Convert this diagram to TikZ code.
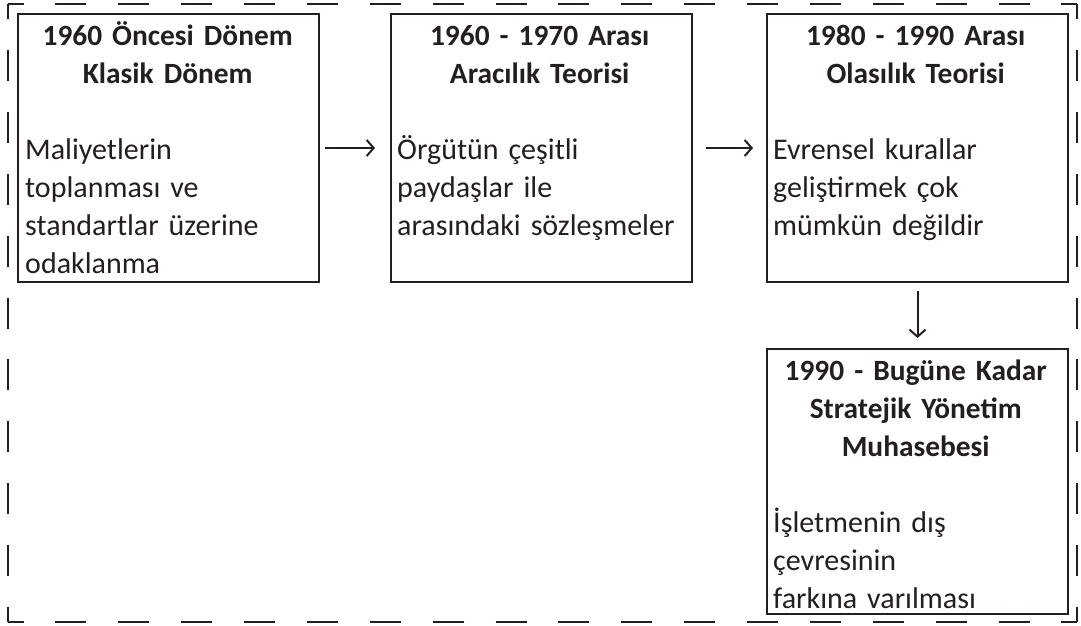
\documentclass[tikz,border=0pt]{standalone}
\usepackage{fontspec}
\setmainfont{Carlito}
\usetikzlibrary{arrows.meta}
\definecolor{ink}{HTML}{231F20}
\newcommand{\ttl}{\fontsize{29.4}{38}\selectfont\bfseries\centering}
\begin{document}
\begin{tikzpicture}[x=1pt,y=-1pt,
  box/.style={draw=ink, line width=2pt, minimum width=301pt, minimum height=268pt, anchor=north west, inner sep=0pt},
  txt/.style={anchor=north west, inner sep=0pt, text width=285pt, align=left, text=ink, font=\fontsize{30}{38}\selectfont},
  conn/.style={draw=ink, line width=2pt, -{Straight Barb[length=7pt,width=16pt]}},
  hframe/.style={draw=ink, line width=2.5pt, dash pattern=on 31pt off 31.88pt, dash phase=15.5pt},
  vframe/.style={draw=ink, line width=2.5pt, dash pattern=on 31pt off 30.8pt, dash phase=15.5pt}
]
\useasboundingbox (0,0) rectangle (1081,626);
% dashed frame
\coordinate (ftl) at (8,4);
\coordinate (ftr) at (1077,4);
\coordinate (fbl) at (8,622);
\coordinate (fbr) at (1077,622);
\draw[hframe] (ftl) -- (ftr);
\draw[hframe] (fbl) -- (fbr);
\draw[vframe] (ftl) -- (fbl);
\draw[vframe] (ftr) -- (fbr);
% boxes
\node[box] (b1) at (17,13) {};
\node[box] (b2) at (390,13) {};
\node[box] (b3) at (766,13) {};
\node[box, minimum height=265pt] (b4) at (766,348) {};
% texts
\node[txt] (t1) at ([xshift=8pt,yshift=-6pt]b1.north west)
 {{\ttl\rule{0pt}{26pt}1960 Öncesi Dönem\\Klasik Dönem\par}\vspace{38pt}Maliyetlerin\\toplanması ve\\standartlar üzerine\\odaklanma};
\node[txt] (t2) at ([xshift=7pt,yshift=-6pt]b2.north west)
 {{\ttl\rule{0pt}{26pt}1960 - 1970 Arası\\Aracılık Teorisi\par}\vspace{38pt}Örgütün çeşitli\\paydaşlar ile\\arasındaki sözleşmeler};
\node[txt] (t3) at ([xshift=7pt,yshift=-6pt]b3.north west)
 {{\ttl\rule{0pt}{26pt}1980 - 1990 Arası\\Olasılık Teorisi\par}\vspace{38pt}Evrensel kurallar\\geliştirmek çok\\mümkün değildir};
\node[txt] (t4) at ([xshift=7pt,yshift=-6pt]b4.north west)
 {{\ttl\rule{0pt}{26pt}1990 - Bugüne Kadar\\Stratejik Yönetim\\Muhasebesi\par}\vspace{38pt}İşletmenin dış\\çevresinin\\farkına varılması};
% connectors
\draw[conn, shorten <=5pt, shorten >=15pt] (b1.east) -- (b2.west);
\draw[conn, shorten <=13pt, shorten >=13pt] (b2.east) -- (b3.west);
\draw[conn, shorten <=8pt, shorten >=10pt] (b3.south) -- (b4.north);
\end{tikzpicture}
\end{document}
